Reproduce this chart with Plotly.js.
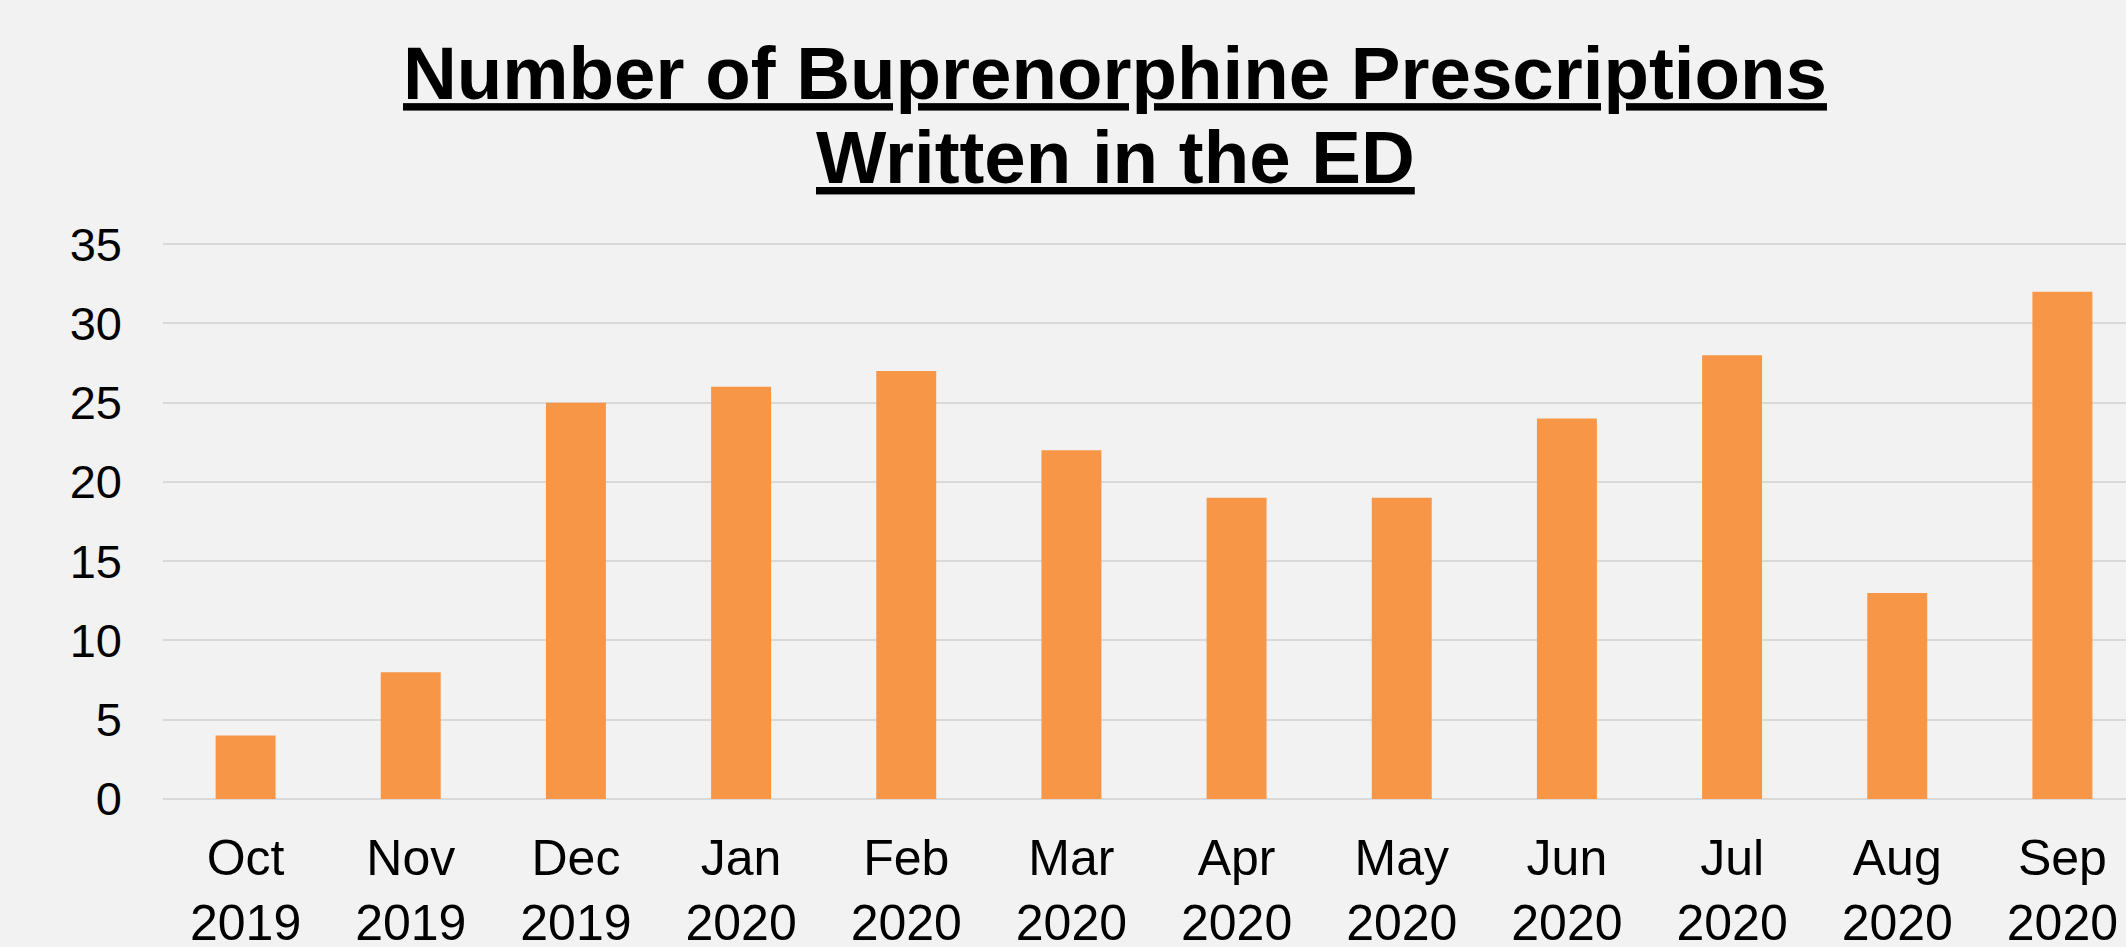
<!DOCTYPE html>
<html>
<head>
<meta charset="utf-8">
<script src="https://cdn.plot.ly/plotly-3.0.1.min.js"></script>
<style>
html, body { margin: 0; padding: 0; background: #F2F2F2; }
#chart { width: 2126px; height: 947px; }
.gtitle, .annotation-text { text-decoration-thickness: 7px !important; text-underline-offset: 7px !important; }
</style>
</head>
<body>
<div id="chart"></div>
<script>
const months = ["Oct", "Nov", "Dec", "Jan", "Feb", "Mar", "Apr", "May", "Jun", "Jul", "Aug", "Sep"];
const years = ["2019", "2019", "2019", "2020", "2020", "2020", "2020", "2020", "2020", "2020", "2020", "2020"];
const prescriptions = [4, 8, 25, 26, 27, 22, 19, 19, 24, 28, 13, 32];
const titleLine1 = "Number of Buprenorphine Prescriptions";
const titleLine2 = "Written in the ED";

const categories = months.map((m, i) => m + "<br>" + years[i]);
const FONT = "Liberation Sans, Arial, sans-serif";

const trace = {
  type: "bar",
  x: categories,
  y: prescriptions,
  marker: { color: "#F79646", line: { width: 0 } },
  hoverinfo: "x+y"
};

const layout = {
  width: 2126,
  height: 947,
  paper_bgcolor: "#F2F2F2",
  plot_bgcolor: "#F2F2F2",
  margin: { l: 163, r: 0, t: 241, b: 148, pad: 0 },
  bargap: 0.637,
  showlegend: false,
  font: { family: FONT, color: "#000000" },
  title: {
    text: titleLine1,
    font: { family: FONT, size: 74.5, color: "#000000", weight: "bold", lineposition: "under" },
    xref: "container", x: 1115 / 2126, xanchor: "center",
    yref: "container", y: 1 - 47 / 947, yanchor: "top"
  },
  annotations: [{
    text: titleLine2,
    showarrow: false,
    xref: "paper", x: (1115 - 163) / 1963, xanchor: "center",
    yref: "paper", y: 1 + (241 - 114) / 558, yanchor: "top",
    font: { family: FONT, size: 74.5, color: "#000000", weight: "bold", lineposition: "under" }
  }],
  xaxis: {
    type: "category",
    range: [-0.5, 11.385],
    showgrid: false,
    zeroline: false,
    showline: false,
    ticks: "",
    tickfont: { family: FONT, size: 50, color: "#000000" },
    ticklabelstandoff: 25,
    automargin: false
  },
  yaxis: {
    range: [0, 35.2],
    dtick: 5,
    tick0: 0,
    showgrid: true,
    gridcolor: "#D9D9D9",
    gridwidth: 1.5,
    zeroline: true,
    zerolinecolor: "#D9D9D9",
    zerolinewidth: 1.5,
    showline: false,
    ticks: "",
    tickfont: { family: FONT, size: 47, color: "#000000" },
    ticklabelstandoff: 40,
    automargin: false
  }
};

Plotly.newPlot("chart", [trace], layout, { displayModeBar: false, responsive: false });
</script>
</body>
</html>
